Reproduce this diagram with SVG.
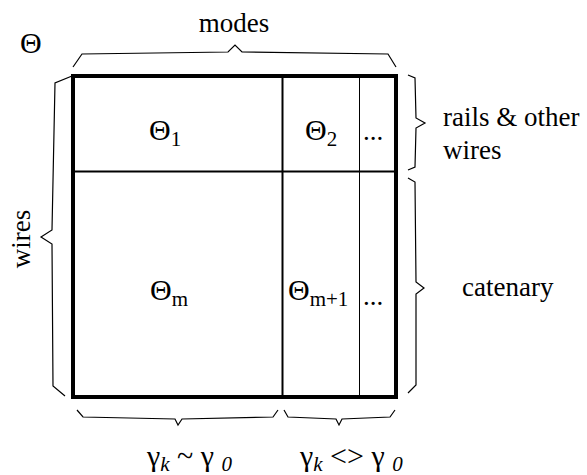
<svg xmlns="http://www.w3.org/2000/svg" width="587" height="475" viewBox="0 0 587 475">
<style>
text{font-family:"Liberation Serif","Times New Roman",serif;fill:#000}
.lbl{font-size:27px}
.th{font-size:30px}
.sub{font-size:21px}
.br{fill:none;stroke:#000;stroke-width:1.2;stroke-linejoin:miter}
.ln{stroke:#000;fill:none}
</style>
<rect width="587" height="475" fill="#fff"/>
<g id="matrix">
<rect class="ln" x="73" y="76" width="323" height="321" stroke-width="4"/>
<line class="ln" x1="73" y1="171.5" x2="396" y2="171.5" stroke-width="2"/>
<line class="ln" x1="282.5" y1="76" x2="282.5" y2="397" stroke-width="2"/>
<line class="ln" x1="359.5" y1="76" x2="359.5" y2="397" stroke-width="1"/>
</g>
<g id="theta-label"><text class="th" x="20" y="53">Θ</text></g>
<g id="theta1"><text class="th" x="149" y="140">Θ<tspan class="sub" dy="6">1</tspan></text></g>
<g id="theta2"><text class="th" x="305" y="140">Θ<tspan class="sub" dy="6">2</tspan></text></g>
<g id="dots1"><text class="lbl" x="373" y="140" text-anchor="middle">...</text></g>
<g id="thetam"><text class="th" x="150" y="300">Θ<tspan class="sub" dy="6">m</tspan></text></g>
<g id="thetam1"><text class="th" x="288" y="300">Θ<tspan class="sub" dy="6">m+1</tspan></text></g>
<g id="dots2"><text class="lbl" x="373" y="305" text-anchor="middle">...</text></g>
<g id="modes"><text class="lbl" x="234" y="32" text-anchor="middle">modes</text></g>
<g id="wires-left"><text class="lbl" transform="translate(30,239) rotate(-90)" text-anchor="middle">wires</text></g>
<g id="rails"><text class="lbl" x="443" y="126">rails &amp; other</text><text class="lbl" x="443" y="159">wires</text></g>
<g id="catenary"><text class="lbl" x="462" y="296">catenary</text></g>
<g id="gamma1"><text class="th" x="147" y="466">γ<tspan class="sub" dy="5" font-style="italic">k</tspan><tspan dy="-5"> ~ γ </tspan><tspan class="sub" dy="5" font-style="italic">0</tspan></text></g>
<g id="gamma2"><text class="th" x="300" y="466">γ<tspan class="sub" dy="5" font-style="italic">k</tspan><tspan dy="-5"> &lt;&gt; γ </tspan><tspan class="sub" dy="5" font-style="italic">0</tspan></text></g>
<g id="connectors">
<path class="br" d="M73,67 L82,54 L228,52 L235,45 L242,52 L388,54 L396,67"/>
<path class="br" d="M72,76 L55,83 L52,230 L41,237 L52,244 L53,386 L65,396"/>
<path class="br" d="M408,75 L415,78 L416,118 L425,123 L416,128 L415,167 L408,170"/>
<path class="br" d="M408,178 L415,182 L416,282 L424,288 L416,294 L416,385 L408,393"/>
<path class="br" d="M77,410 L83,417 L175,419 L178,425 L182,419 L273,417 L278,410"/>
<path class="br" d="M284,410 L288,417 L336,419 L339,425 L342,419 L390,417 L395,410"/>
</g>
</svg>
